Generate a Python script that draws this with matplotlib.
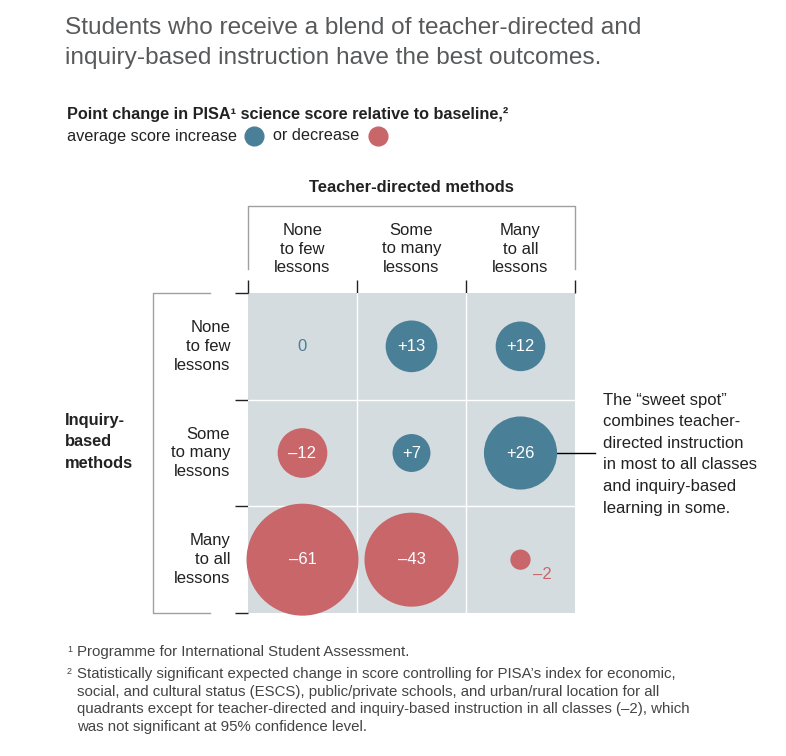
import numpy as np
import matplotlib
matplotlib.use("Agg")
import matplotlib.pyplot as plt

plt.rcParams["font.family"] = ["Liberation Sans", "DejaVu Sans"]

# ---------------------------------------------------------------------------
# Données
# ---------------------------------------------------------------------------
col_labels = ["None\nto few\nlessons", "Some\nto many\nlessons", "Many\nto all\nlessons"]
row_labels = ["None\nto few\nlessons", "Some\nto many\nlessons", "Many\nto all\nlessons"]
# lignes = méthodes d'enquête, colonnes = méthodes dirigées par l'enseignant
values = [
    [0, 13, 12],
    [-12, 7, 26],
    [-61, -43, -2],
]
value_labels = [
    ["0", "+13", "+12"],
    ["\u201312", "+7", "+26"],
    ["\u201361", "\u201343", "\u20132"],
]

BLUE = "#4A7F98"
RED = "#C8666A"
CELL = "#D4DCE0"
TXT = "#222222"
GREY = "#58595B"
BRACKET = "#A0A0A0"

W, H = 786, 756
fig = plt.figure(figsize=(W / 100, H / 100), dpi=100)


def fx(px):
    return px / W


def fy(py):
    return 1 - py / H


# ---------------------------------------------------------------------------
# Titre et sous-titre
# ---------------------------------------------------------------------------
fig.text(fx(65), fy(43), "Students who receive a blend of teacher-directed and\n"
         "inquiry-based instruction have the best outcomes.",
         fontsize=17.6, color=GREY, va="center", ha="left", linespacing=1.42)

fig.text(fx(67), fy(115), "Point change in PISA\u00b9 science score relative to baseline,\u00b2",
         fontsize=11.7, fontweight="bold", color=TXT, va="center")

# légende : texte + pastilles placées à partir de l'étendue du texte
fig.canvas.draw()
r = fig.canvas.get_renderer()
t1 = fig.text(fx(67), fy(136), "average score increase", fontsize=11.7, color=TXT, va="center")
bb = t1.get_window_extent(r)
x_blue = bb.x1 + 17
fig.lines.append(plt.Line2D([x_blue / W], [fy(136)], transform=fig.transFigure,
                            marker="o", markersize=13.5, color=BLUE, linestyle=""))
t2 = fig.text((x_blue + 19) / W, fy(136), "or decrease", fontsize=11.7, color=TXT, va="center")
bb2 = t2.get_window_extent(r)
fig.lines.append(plt.Line2D([(bb2.x1 + 19) / W], [fy(136)], transform=fig.transFigure,
                            marker="o", markersize=13.5, color=RED, linestyle=""))

# ---------------------------------------------------------------------------
# Grille de bulles
# ---------------------------------------------------------------------------
gx0, gx1, gy0, gy1 = 248, 575, 293, 613
ax = fig.add_axes([fx(gx0), fy(gy1), fx(gx1) - fx(gx0), (gy1 - gy0) / H])
ax.set_facecolor(CELL)
ax.set_xlim(0, 3)
ax.set_ylim(3, 0)
for s in ax.spines.values():
    s.set_visible(False)

for k in (1, 2):
    ax.axvline(k, color="white", lw=1)
    ax.axhline(k, color="white", lw=1)

# ticks sombres aux séparations
ax.set_xticks([0, 1, 2, 3])
ax.set_yticks([0, 1, 2, 3])
ax.set_xticklabels([])
ax.set_yticklabels([])
ax.xaxis.tick_top()
ax.tick_params(axis="both", length=9.5, width=1, color="#222222", direction="out")

vals = np.array(values, dtype=float)
rows, cols = np.indices(vals.shape)
scale = 6500 / 61  # pt^2 par point de score
colors = [BLUE if v > 0 else RED for v in vals.ravel()]
ax.scatter(cols.ravel() + 0.5, rows.ravel() + 0.5, s=np.abs(vals.ravel()) * scale,
           c=colors, linewidths=0, clip_on=False, zorder=3)

for i in range(3):
    for j in range(3):
        v = values[i][j]
        lab = value_labels[i][j]
        if v == 0:
            ax.text(j + 0.5, i + 0.5, lab, color=BLUE, fontsize=12, ha="center", va="center")
        elif abs(v) < 5:
            ax.annotate(lab, (j + 0.5, i + 0.5), xytext=(9, -11), textcoords="offset points",
                        color=RED, fontsize=12, ha="left", va="center")
        else:
            ax.text(j + 0.5, i + 0.5, lab, color="white", fontsize=12,
                    ha="center", va="center", zorder=4)

# en-têtes de colonnes et de lignes
for j, lab in enumerate(col_labels):
    ax.text(j + 0.5, 1 + (gy0 - 249) / (gy1 - gy0), lab, transform=ax.get_xaxis_transform(),
            ha="center", va="center", fontsize=12, color=TXT, linespacing=1.33)
for i, lab in enumerate(row_labels):
    ax.text(-0.055, i + 0.5, lab, transform=ax.get_yaxis_transform(), ha="right",
            va="center", fontsize=12, color=TXT, linespacing=1.33)

# accolade supérieure
top = 1 + (gy0 - 206) / (gy1 - gy0)
low = 1 + (gy0 - 269) / (gy1 - gy0)
ax.plot([0, 0, 1, 1], [low, top, top, low], transform=ax.transAxes, color=BRACKET,
        lw=1, clip_on=False)
ax.text(0.5, 1 + (gy0 - 188) / (gy1 - gy0), "Teacher-directed methods", transform=ax.transAxes,
        ha="center", va="center", fontsize=11.9, fontweight="bold", color=TXT)

# accolade gauche
lx = (153 - gx0) / (gx1 - gx0)
ax_arm = (210 - gx0) / (gx1 - gx0)
ax.plot([ax_arm, lx, lx, ax_arm], [1, 1, 0, 0], transform=ax.transAxes, color=BRACKET,
        lw=1, clip_on=False)
fig.text(fx(65), fy(442), "Inquiry-\nbased\nmethods", fontsize=11.8, fontweight="bold",
         color=TXT, ha="left", va="center", linespacing=1.56)

# annotation « sweet spot »
r26 = np.sqrt(26 * scale) / 2 * 100 / 72 / (gx1 - gx0) * 3
ax.plot([2.5 + r26, 2.5 + r26 + (592 - 554) / (gx1 - gx0) * 3], [1.5, 1.5], color="black",
        lw=1, clip_on=False, zorder=2)
fig.text(fx(603), fy(454), "The \u201csweet spot\u201d\ncombines teacher-\ndirected instruction\n"
         "in most to all classes\nand inquiry-based\nlearning in some.",
         fontsize=12, color=TXT, ha="left", va="center", linespacing=1.55)

# ---------------------------------------------------------------------------
# Notes
# ---------------------------------------------------------------------------
FN = "#444444"
fig.text(fx(67), fy(649), "1", fontsize=6.5, color=FN, va="center")
fig.text(fx(77), fy(652), "Programme for International Student Assessment.",
         fontsize=10.8, color=FN, va="center")
fig.text(fx(67), fy(671), "2", fontsize=6.5, color=FN, va="center")
fig.text(fx(77), fy(700.5), "Statistically significant expected change in score controlling for "
         "PISA\u2019s index for economic,\nsocial, and cultural status (ESCS), public/private "
         "schools, and urban/rural location for all\nquadrants except for teacher-directed and "
         "inquiry-based instruction in all classes (\u20132), which\nwas not significant at 95% "
         "confidence level.",
         fontsize=10.8, color=FN, va="center", linespacing=1.35)

fig.savefig("out.png", dpi=100)
